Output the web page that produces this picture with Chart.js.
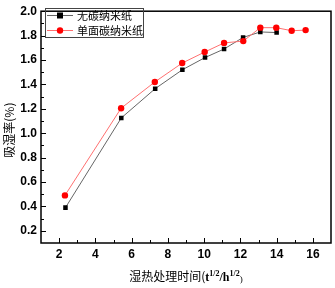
<!DOCTYPE html>
<html>
<head>
<meta charset="utf-8">
<script src="https://cdn.jsdelivr.net/npm/chart.js@4.4.0/dist/chart.umd.min.js"></script>
<style>
  html, body { margin: 0; padding: 0; background: #fff; }
</style>
</head>
<body>
<canvas id="chart" width="335" height="288"></canvas>
<script>
const seriesNames = ["无碳纳米纸", "单面碳纳米纸"]
const timesPlain = [2.35, 5.43, 7.3, 8.8, 10.05, 11.1, 12.15, 13.1, 14.0]
const uptakePlain = [0.39, 1.125, 1.365, 1.52, 1.62, 1.69, 1.785, 1.83, 1.825]
const timesSingle = [2.32, 5.42, 7.28, 8.79, 10.03, 11.1, 12.16, 13.1, 13.98, 14.83, 15.6]
const uptakeSingle = [0.49, 1.205, 1.42, 1.575, 1.665, 1.74, 1.755, 1.865, 1.865, 1.84, 1.845]
const xTicks = [2, 4, 6, 8, 10, 12, 14, 16]
const xMinorTicks = [3, 5, 7, 9, 11, 13, 15]
const yTicks = [0.2, 0.4, 0.6, 0.8, 1.0, 1.2, 1.4, 1.6, 1.8, 2.0]
const yMinorTicks = [0.3, 0.5, 0.7, 0.9, 1.1, 1.3, 1.5, 1.7, 1.9]

const pts = (xs, ys) => xs.map((x, i) => ({ x, y: ys[i] }))
const tickFont = { family: "Arial, 'Liberation Sans'", size: 12, weight: "bold" }
const cjk = "'Noto Sans CJK SC', sans-serif"

// frame, inward ticks, legend and axis titles
const decorations = {
  id: "decorations",
  afterDraw(chart) {
    const { ctx, chartArea: a, scales: { x, y } } = chart
    ctx.save()
    ctx.strokeStyle = "#000"
    ctx.lineWidth = 1.5
    ctx.strokeRect(a.left, a.top, a.right - a.left, a.bottom - a.top)

    ctx.lineWidth = 1
    ctx.beginPath()
    xTicks.forEach(v => { const p = Math.round(x.getPixelForValue(v)) + 0.5; ctx.moveTo(p, a.bottom); ctx.lineTo(p, a.bottom - 5) })
    xMinorTicks.forEach(v => { const p = Math.round(x.getPixelForValue(v)) + 0.5; ctx.moveTo(p, a.bottom); ctx.lineTo(p, a.bottom - 3) })
    yTicks.forEach(v => { const p = Math.round(y.getPixelForValue(v)) + 0.5; ctx.moveTo(a.left, p); ctx.lineTo(a.left + 5, p) })
    yMinorTicks.forEach(v => { const p = Math.round(y.getPixelForValue(v)) + 0.5; ctx.moveTo(a.left, p); ctx.lineTo(a.left + 3, p) })
    ctx.stroke()

    // legend box
    ctx.strokeStyle = "#444"
    ctx.lineWidth = 1
    ctx.strokeRect(45.5, 8.5, 98, 29)
    chart.data.datasets.forEach((ds, i) => {
      const cy = 15.5 + i * 15
      ctx.strokeStyle = ds.borderColor
      ctx.beginPath(); ctx.moveTo(47, cy); ctx.lineTo(73, cy); ctx.stroke()
      ctx.fillStyle = ds.pointBackgroundColor
      if (ds.pointStyle === "rect") ctx.fillRect(57, cy - 3, 6, 6)
      else { ctx.beginPath(); ctx.arc(60, cy, 3.2, 0, Math.PI * 2); ctx.fill() }
      ctx.fillStyle = "#000"
      ctx.font = "11px " + cjk
      ctx.textBaseline = "middle"
      ctx.textAlign = "left"
      ctx.fillText(ds.label, 77, cy + 0.5)
    })

    // y title
    ctx.save()
    ctx.translate(9, (a.top + a.bottom) / 2 + 3)
    ctx.rotate(-Math.PI / 2)
    ctx.textAlign = "center"
    ctx.textBaseline = "middle"
    ctx.font = "12px " + cjk
    ctx.fillText("吸湿率(%)", 0, 0)
    ctx.restore()

    // x title with superscripts
    const parts = [
      ["湿热处理时间(", "12px " + cjk, 0],
      ["t", "bold 12px 'Liberation Serif'", 0],
      ["1/2", "bold 8px 'Liberation Serif'", -5],
      ["/h", "bold 12px 'Liberation Serif'", 0],
      ["1/2", "bold 8px 'Liberation Serif'", -5],
      [")", "9px 'Liberation Serif'", 1]
    ]
    let total = 0
    parts.forEach(p => { ctx.font = p[1]; total += ctx.measureText(p[0]).width })
    let px = (a.left + a.right) / 2 - total / 2
    ctx.textAlign = "left"
    ctx.textBaseline = "alphabetic"
    parts.forEach(p => {
      ctx.font = p[1]
      ctx.fillText(p[0], px, 281 + p[2])
      px += ctx.measureText(p[0]).width
    })
    ctx.restore()
  }
}

new Chart(document.getElementById("chart"), {
  type: "line",
  data: {
    datasets: [
      {
        label: seriesNames[0],
        data: pts(timesPlain, uptakePlain),
        borderColor: "#666",
        borderWidth: 1,
        pointStyle: "rect",
        pointRadius: 3.2,
        pointBorderWidth: 0,
        pointBackgroundColor: "#000",
        pointBorderColor: "#000",
        order: 1
      },
      {
        label: seriesNames[1],
        data: pts(timesSingle, uptakeSingle),
        borderColor: "#ff7070",
        borderWidth: 1,
        pointStyle: "circle",
        pointRadius: 3.2,
        pointBorderWidth: 0,
        pointBackgroundColor: "#ff0000",
        pointBorderColor: "#ff0000",
        order: 0
      }
    ]
  },
  options: {
    responsive: false,
    animation: false,
    devicePixelRatio: 1,
    layout: { padding: { top: 7, right: 3, left: 0, bottom: 0 } },
    plugins: {
      legend: { display: false },
      tooltip: { enabled: false }
    },
    scales: {
      x: {
        type: "linear",
        min: 1,
        max: 17,
        afterBuildTicks: s => { s.ticks = xTicks.map(v => ({ value: v })) },
        afterFit: s => { s.height = 45 },
        grid: { display: false, drawTicks: false },
        border: { display: false },
        ticks: { color: "#000", font: tickFont, padding: 4, maxRotation: 0 }
      },
      y: {
        min: 0.1,
        max: 2.0,
        afterBuildTicks: s => { s.ticks = yTicks.map(v => ({ value: v })) },
        afterFit: s => { s.width = 41 },
        grid: { display: false, drawTicks: false },
        border: { display: false },
        ticks: { color: "#000", font: tickFont, padding: 4, callback: v => v.toFixed(1) }
      }
    }
  },
  plugins: [decorations]
})
</script>
</body>
</html>
